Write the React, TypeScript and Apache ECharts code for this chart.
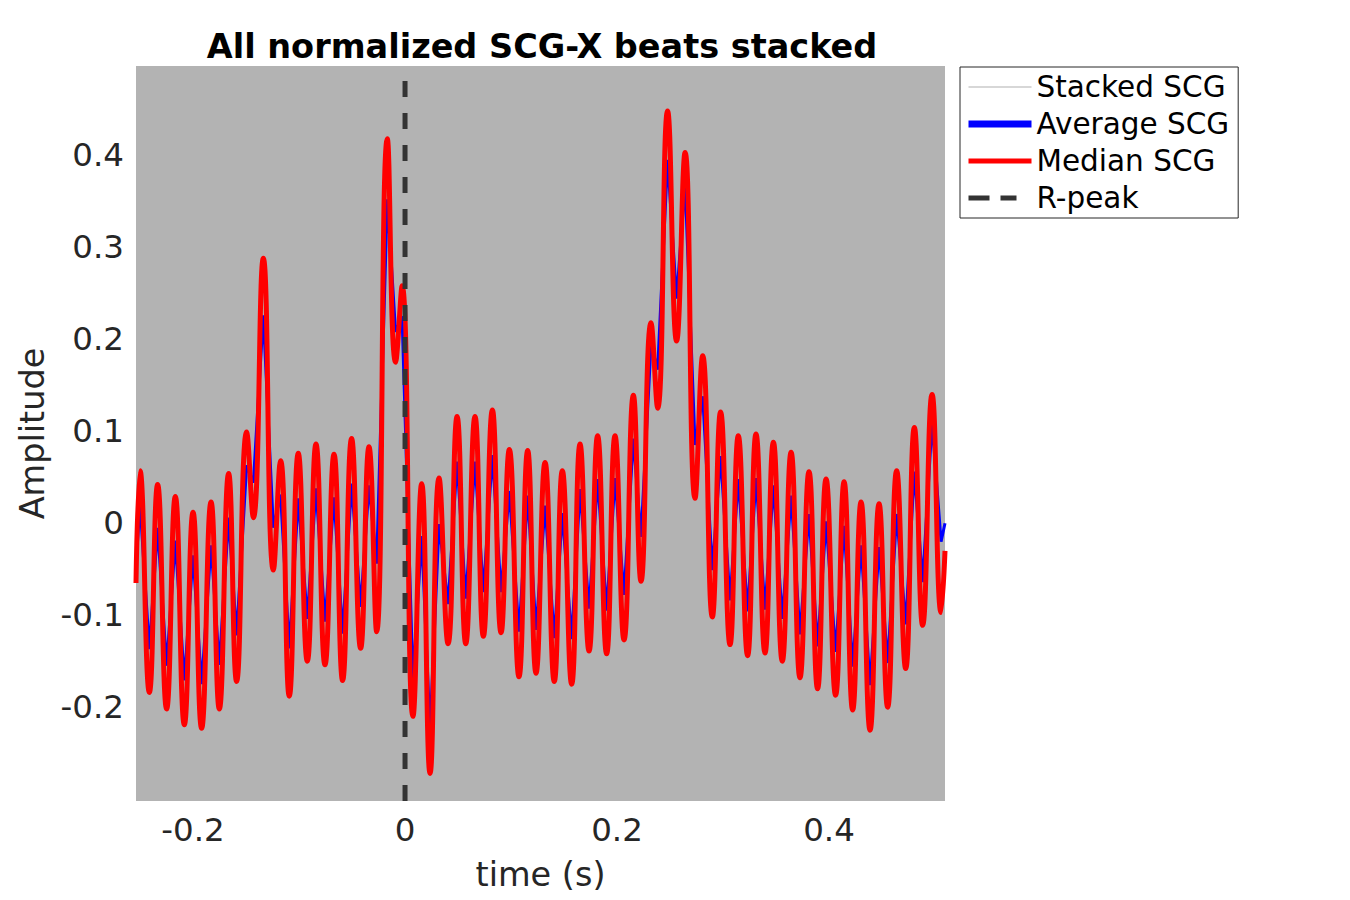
import React, { useEffect, useRef } from 'react';
import * as echarts from 'echarts';

// time (s) of each turning point of the beat template
const timeSec = [
  -0.2538, -0.25, -0.2412, -0.2334, -0.2249, -0.2167, -0.2082, -0.2, -0.1919, -0.183,
  -0.1752, -0.1664, -0.1589, -0.1494, -0.1431, -0.1337, -0.1242, -0.1174, -0.1092, -0.1007,
  -0.0922, -0.084, -0.0755, -0.067, -0.0589, -0.0504, -0.0419, -0.034, -0.0268, -0.0167,
  -0.0089, -0.0028, 0.0075, 0.0157, 0.0236, 0.0321, 0.0406, 0.0491, 0.0573, 0.066,
  0.0739, 0.0824, 0.0906, 0.0984, 0.1075, 0.1157, 0.1236, 0.1321, 0.1408, 0.1484,
  0.1572, 0.1651, 0.1736, 0.1817, 0.1902, 0.1981, 0.2066, 0.2154, 0.2226, 0.2321,
  0.2383, 0.2477, 0.2562, 0.2642, 0.2736, 0.2808, 0.2899, 0.2977, 0.3066, 0.3144,
  0.3232, 0.3311, 0.3396, 0.3475, 0.3559, 0.3642, 0.3726, 0.3811, 0.3892, 0.3972,
  0.4062, 0.4142, 0.4223, 0.4302, 0.4387, 0.4472, 0.4553, 0.4638, 0.4723, 0.4805,
  0.4883, 0.4972, 0.5057, 0.5094,
];

const medianScg = [
  -0.065, 0.057, -0.184, 0.042, -0.202, 0.029, -0.219, 0.012, -0.223, 0.023,
  -0.202, 0.054, -0.172, 0.099, 0.006, 0.288, -0.051, 0.068, -0.188, 0.076,
  -0.15, 0.086, -0.154, 0.075, -0.171, 0.092, -0.136, 0.083, -0.118, 0.418,
  0.175, 0.258, -0.21, 0.043, -0.272, 0.049, -0.131, 0.116, -0.131, 0.116,
  -0.123, 0.123, -0.119, 0.08, -0.167, 0.079, -0.163, 0.066, -0.172, 0.057,
  -0.175, 0.086, -0.139, 0.095, -0.142, 0.095, -0.127, 0.139, -0.063, 0.218,
  0.125, 0.448, 0.198, 0.403, 0.027, 0.182, -0.102, 0.121, -0.132, 0.095,
  -0.144, 0.097, -0.141, 0.088, -0.15, 0.077, -0.168, 0.056, -0.18, 0.048,
  -0.187, 0.045, -0.203, 0.023, -0.225, 0.021, -0.2, 0.057, -0.158, 0.104,
  -0.111, 0.14, -0.097, -0.03,
];

const averageScg = [
  -0.045, 0.021, -0.137, -0.005, -0.155, -0.019, -0.171, -0.035, -0.175, -0.024,
  -0.154, 0.006, -0.122, 0.063, 0.044, 0.226, -0.005, 0.031, -0.136, 0.027,
  -0.104, 0.038, -0.107, 0.028, -0.12, 0.043, -0.091, 0.041, -0.044, 0.352,
  0.208, 0.225, -0.17, -0.014, -0.225, -0.001, -0.088, 0.067, -0.082, 0.067,
  -0.075, 0.074, -0.075, 0.035, -0.118, 0.03, -0.116, 0.019, -0.125, 0.011,
  -0.126, 0.037, -0.093, 0.048, -0.095, 0.049, -0.078, 0.092, -0.015, 0.195,
  0.167, 0.395, 0.244, 0.37, 0.085, 0.138, -0.051, 0.073, -0.084, 0.048,
  -0.096, 0.049, -0.094, 0.041, -0.104, 0.03, -0.121, 0.01, -0.134, 0.002,
  -0.14, -0.003, -0.156, -0.024, -0.176, -0.026, -0.152, 0.01, -0.11, 0.056,
  -0.064, 0.11, -0.02, 0.0,
];

const stackedScg: number[][] = [];
const rPeakTime = 0;

const xTicks = [-0.2, 0, 0.2, 0.4];
const yTicks = [-0.2, -0.1, 0, 0.1, 0.2, 0.3, 0.4];
const xLimits = [-0.2538, 0.5094];
const yLimits = [-0.302, 0.497];

const FONT = 'DejaVu Sans';
const AXIS_TEXT = '#262626';

const App: React.FC = () => {
  const chartRef = useRef<HTMLDivElement>(null);

  useEffect(() => {
    if (!chartRef.current) return;
    const chart = echarts.init(chartRef.current, null, { renderer: 'svg' });

    const pairs = (ys: number[]) => timeSec.map((t, i) => [t, ys[i]]);

    chart.setOption({
      animation: false,
      backgroundColor: '#ffffff',
      title: {
        text: 'All normalized SCG-X beats stacked',
        left: 537,
        top: 24,
        textAlign: 'center',
        textStyle: { fontFamily: FONT, fontWeight: 'bold', fontSize: 33.5, color: '#000000' },
      },
      grid: {
        left: 136,
        top: 66,
        width: 809,
        height: 735,
        show: true,
        backgroundColor: '#b3b3b3',
        borderWidth: 0,
      },
      xAxis: {
        type: 'value',
        min: xLimits[0],
        max: xLimits[1],
        name: 'time (s)',
        nameLocation: 'middle',
        nameGap: 56,
        nameTextStyle: { fontFamily: FONT, fontSize: 33.5, color: AXIS_TEXT },
        axisLine: { show: false },
        axisTick: { show: false },
        splitLine: { show: false },
        axisLabel: {
          customValues: xTicks,
          formatter: (v: number) => String(v),
          fontFamily: FONT,
          fontSize: 32.5,
          color: AXIS_TEXT,
          margin: 12,
        },
      },
      yAxis: {
        type: 'value',
        min: yLimits[0],
        max: yLimits[1],
        name: 'Amplitude',
        nameLocation: 'middle',
        nameGap: 84,
        nameTextStyle: { fontFamily: FONT, fontSize: 33.5, color: AXIS_TEXT },
        axisLine: { show: false },
        axisTick: { show: false },
        splitLine: { show: false },
        axisLabel: {
          customValues: yTicks,
          formatter: (v: number) => String(v),
          fontFamily: FONT,
          fontSize: 32.5,
          color: AXIS_TEXT,
          margin: 12,
        },
      },
      legend: {
        orient: 'vertical',
        left: 960,
        top: 67,
        padding: [5, 9, 5, 5],
        itemWidth: 63,
        itemHeight: 30,
        itemGap: 7,
        borderColor: '#262626',
        borderWidth: 1,
        borderRadius: 0,
        backgroundColor: '#ffffff',
        itemStyle: { opacity: 0 },
        textStyle: { fontFamily: FONT, fontSize: 29.5, color: '#000000' },
        data: [
          { name: 'Stacked SCG', lineStyle: { width: 1.2 } },
          { name: 'Average SCG', lineStyle: { width: 7 } },
          { name: 'Median SCG', lineStyle: { width: 5 } },
          { name: 'R-peak', lineStyle: { width: 5, type: [21, 11, 16, 30] } },
        ],
      },
      series: [
        {
          name: 'Stacked SCG',
          type: 'line',
          data: stackedScg,
          symbol: 'none',
          color: '#b0b0b0',
          lineStyle: { color: '#b0b0b0', width: 1 },
        },
        {
          name: 'Average SCG',
          type: 'line',
          data: pairs(averageScg),
          symbol: 'none',
          color: '#0000ff',
          lineStyle: { color: '#0000ff', width: 3 },
          z: 2,
        },
        {
          name: 'Median SCG',
          type: 'line',
          data: pairs(medianScg),
          symbol: 'none',
          smooth: 0.5,
          color: '#ff0000',
          lineStyle: { color: '#ff0000', width: 5 },
          z: 3,
        },
        {
          name: 'R-peak',
          type: 'line',
          data: [
            [rPeakTime, yLimits[0]],
            [rPeakTime, yLimits[1]],
          ],
          symbol: 'none',
          color: '#333333',
          lineStyle: { color: '#333333', width: 5, type: [16, 16] },
          z: 4,
        },
      ],
    });

    return () => {
      chart.dispose();
    };
  }, []);

  return (
    <div
      ref={chartRef}
      style={{ position: 'absolute', left: 0, top: 0, width: 1350, height: 900 }}
    />
  );
};

export default App;
